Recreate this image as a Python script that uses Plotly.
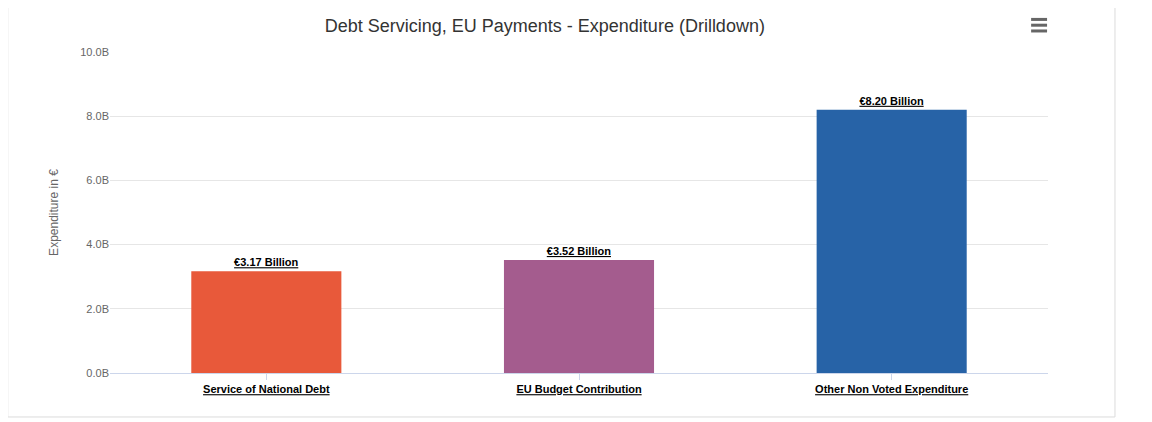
import plotly.graph_objects as go

categories = ['Service of National Debt', 'EU Budget Contribution', 'Other Non Voted Expenditure']
values = [3.17e9, 3.52e9, 8.20e9]
labels = ['€3.17 Billion', '€3.52 Billion', '€8.20 Billion']
colors = ['#E8593A', '#A45C8E', '#2763A7']

fig = go.Figure(go.Bar(
    x=categories, y=values, marker=dict(color=colors, line=dict(width=0)),
    width=0.48, text=['<b><u>%s</u></b>' % t for t in labels],
    textposition='outside', cliponaxis=False,
    textfont=dict(size=11, color='#000', family='Arial'),
))

fig.update_layout(
    width=1152, height=422,
    margin=dict(l=102, r=112, t=44, b=57),
    paper_bgcolor='white', plot_bgcolor='white',
    title=dict(text='Debt Servicing, EU Payments - Expenditure (Drilldown)', x=0.466,
               y=0.957, yanchor='middle',
               font=dict(size=18, color='#333', family='Arial')),
    font=dict(family='Arial'),
    showlegend=False,
    xaxis=dict(tickmode='array', tickvals=categories,
               ticktext=['<b><u>%s</u></b>' % c for c in categories],
               tickfont=dict(size=11, color='#000'), showline=True, linecolor='#ccd6eb',
               ticks='outside', ticklen=6, tickcolor='#ccd6eb', showgrid=False),
    yaxis=dict(range=[0, 1e10], tickvals=[0, 2e9, 4e9, 6e9, 8e9, 1e10],
               ticktext=['0.0B', '2.0B', '4.0B', '6.0B', '8.0B', '10.0B'],
               tickfont=dict(size=11, color='#666'), gridcolor='#e6e6e6', zeroline=False,
               title=dict(text='Expenditure in €', font=dict(size=12, color='#666'), standoff=19)),
    shapes=[
        dict(type='rect', xref='paper', yref='paper', x0=-0.109, x1=1.0714, y0=-0.137, y1=1.25,
             line=dict(color='#dcdcdc', width=1), layer='below'),
    ] + [dict(type='line', xref='paper', yref='paper', x0=0.982, x1=0.999,
              y0=1.0835 + d, y1=1.0835 + d, line=dict(color='#666', width=3)) for d in (0.018, 0, -0.018)],
)

fig.write_html("out.html")
